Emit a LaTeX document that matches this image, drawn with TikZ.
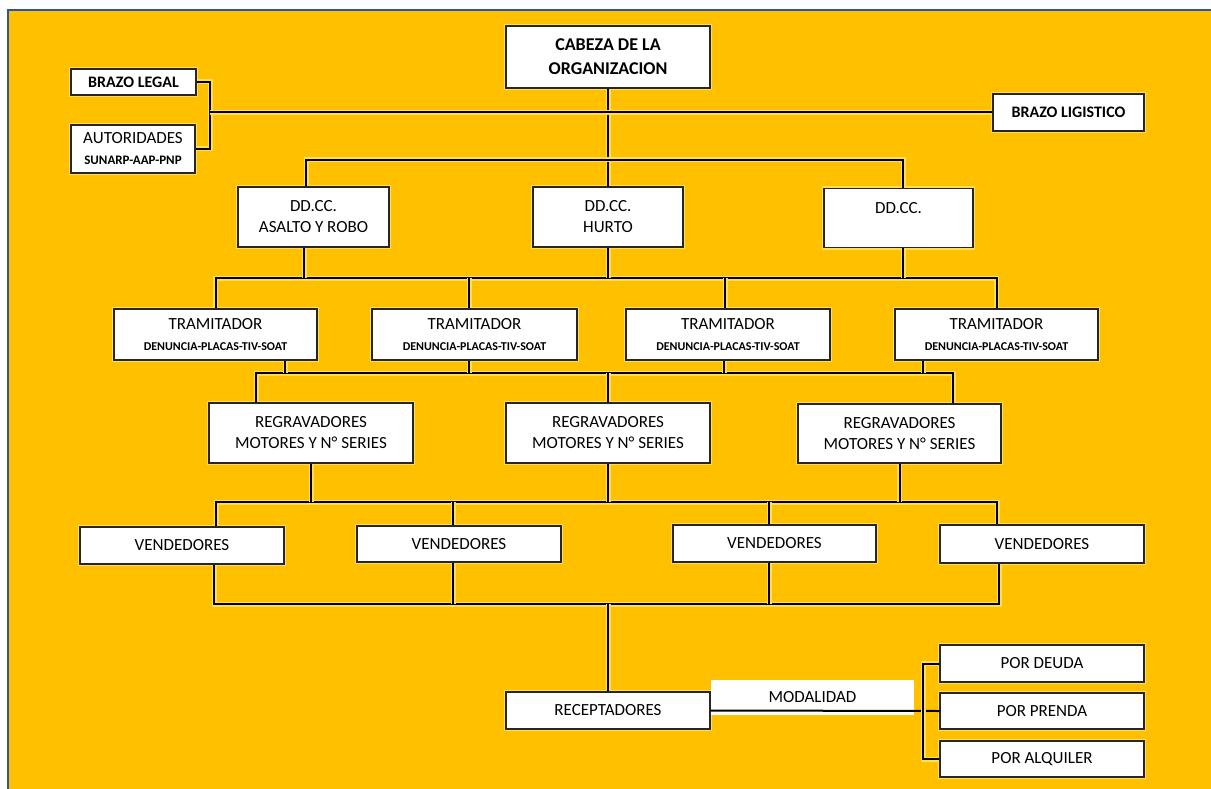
\documentclass[tikz,border=0pt]{standalone}
\usepackage{fontspec}
\setmainfont{Carlito}

\definecolor{fondo}{HTML}{FFC000}
\definecolor{halo}{HTML}{FFDD55}
\definecolor{marco}{HTML}{2F5597}
\newcommand{\subtxt}[2][12]{{\fontsize{#1}{#1}\selectfont\bfseries #2}}

\tikzset{
  texto/.style={align=center, inner sep=0pt, text=black, font=\fontsize{17}{21}\selectfont},
  caja/.style={texto, draw=black!85, line width=1.3pt, fill=white, minimum width=204pt, minimum height=37pt, preaction={draw=halo, line width=4pt}},
  trazo/.style={draw=black, line width=2pt},
  linea/.style={trazo, preaction={draw=halo, line width=5pt}}
}

\begin{document}
\begin{tikzpicture}[x=1pt, y=-1pt]
\useasboundingbox (0,0) rectangle (1211,789);
\fill[fondo] (8,10) rectangle (1211,789);
\draw[marco, line width=1.5pt] (8,789) -- (8,10) -- (1211,10);
% Boxes
\node[caja, minimum height=62pt, font=\fontsize{18}{24}\selectfont\bfseries] (cabeza) at (608,57) {CABEZA DE LA\\ORGANIZACION};
\node[caja, minimum width=125pt, minimum height=26pt, font=\fontsize{16}{20}\selectfont\bfseries] (legal) at (133.5,82) {BRAZO LEGAL};
\node[caja, minimum width=124pt, minimum height=48pt] (autoridad) at (133,149) {AUTORIDADES\\\subtxt[13]{SUNARP-AAP-PNP}};
\node[caja, minimum width=151pt, font=\fontsize{16}{20}\selectfont\bfseries] (logistico) at (1068.5,112.5) {BRAZO LIGISTICO};
\node[caja, minimum width=151pt, minimum height=60pt] (asalto) at (313.5,217) {DD.CC.\\ASALTO Y ROBO};
\node[caja, minimum width=150pt, minimum height=60pt] (hurto) at (608,217) {DD.CC.\\HURTO};
\node[caja, minimum width=149pt, minimum height=59pt] (ddcc) at (898.5,218) {DD.CC.\\\mbox{}};
\node[caja, minimum width=203pt, minimum height=51pt] (tram1) at (215.5,334.5) {TRAMITADOR\\\subtxt{DENUNCIA-PLACAS-TIV-SOAT}};
\node[caja, minimum width=205pt, minimum height=51pt] (tram2) at (474.5,334.5) {TRAMITADOR\\\subtxt{DENUNCIA-PLACAS-TIV-SOAT}};
\node[caja, minimum height=51pt] (tram3) at (728,334.5) {TRAMITADOR\\\subtxt{DENUNCIA-PLACAS-TIV-SOAT}};
\node[caja, minimum width=203pt, minimum height=51pt] (tram4) at (996.5,334.5) {TRAMITADOR\\\subtxt{DENUNCIA-PLACAS-TIV-SOAT}};
\node[caja, minimum height=60pt] (regr1) at (311,433) {REGRAVADORES\\MOTORES Y N° SERIES};
\node[caja, minimum height=60pt] (regr2) at (608,433) {REGRAVADORES\\MOTORES Y N° SERIES};
\node[caja, minimum width=203pt, minimum height=59pt] (regr3) at (899.5,433.5) {REGRAVADORES\\MOTORES Y N° SERIES};
\node[caja] (vend1) at (182,545.5) {VENDEDORES};
\node[caja, minimum height=36pt] (vend2) at (459,544) {VENDEDORES};
\node[caja, minimum width=203pt] (vend3) at (774.5,543.5) {VENDEDORES};
\node[caja, minimum height=38pt] (vend4) at (1042,544) {VENDEDORES};
\node[caja] (recep) at (608,710.5) {RECEPTADORES};
\node[texto, fill=white, minimum width=203pt, minimum height=35pt] (modal) at (812.5,697.5) {MODALIDAD};
\node[caja] (deuda) at (1042,663.5) {POR DEUDA};
\node[caja, minimum height=36pt] (prenda) at (1042,711) {POR PRENDA};
\node[caja, minimum height=36pt] (alquiler) at (1042,759) {POR ALQUILER};
% Buses
\coordinate (brazo) at (210,112.5);
\coordinate (b1) at (0,160);
\coordinate (b2) at (0,278);
\coordinate (b3) at (0,373);
\coordinate (b4) at (0,502);
\coordinate (b5) at (0,604);
% Lines
\draw[linea] (cabeza) -- (hurto);
\draw[linea] (legal.east) -| (brazo) |- (autoridad.east);
\draw[linea] (brazo) -- (logistico.west);
\draw[linea] ([xshift=-7.5pt]asalto.north) |- ([xshift=4.5pt]ddcc.north |- b1) -- ([xshift=4.5pt]ddcc.north);
\draw[linea] (tram1.north) |- (tram4.north |- b2) -- (tram4.north);
\draw[linea] ([xshift=-9.5pt]asalto.south) -- ([xshift=-9.5pt]asalto.south |- b2);
\draw[linea] (hurto.south) -- (hurto.south |- b2);
\draw[linea] ([xshift=4.5pt]ddcc.south) -- ([xshift=4.5pt]ddcc.south |- b2);
\draw[linea] ([xshift=-5.5pt]tram2.north) -- ([xshift=-5.5pt]tram2.north |- b2);
\draw[linea] ([xshift=-3pt]tram3.north) -- ([xshift=-3pt]tram3.north |- b2);
\draw[linea] ([xshift=-55pt]regr1.north) |- ([xshift=53.5pt]regr3.north |- b3) -- ([xshift=53.5pt]regr3.north);
\draw[linea] ([xshift=69.5pt]tram1.south) -- ([xshift=69.5pt]tram1.south |- b3);
\draw[linea] ([xshift=-5.5pt]tram2.south) -- ([xshift=-5.5pt]tram2.south |- b3);
\draw[linea] ([xshift=-4pt]tram3.south) -- ([xshift=-4pt]tram3.south |- b3);
\draw[linea] ([xshift=-73.5pt]tram4.south) -- ([xshift=-73.5pt]tram4.south |- b3);
\draw[linea] (regr2.north) -- (regr2.north |- b3);
\draw[linea] ([xshift=34pt]vend1.north) |- ([xshift=-45pt]vend4.north |- b4) -- ([xshift=-45pt]vend4.north);
\draw[linea] (regr1.south) -- (regr1.south |- b4);
\draw[linea] (regr2.south) -- (regr2.south |- b4);
\draw[linea] (regr3.south) -- (regr3.south |- b4);
\draw[linea] ([xshift=-6pt]vend2.north) -- ([xshift=-6pt]vend2.north |- b4);
\draw[linea] ([xshift=-5.5pt]vend3.north) -- ([xshift=-5.5pt]vend3.north |- b4);
\draw[linea] ([xshift=32pt]vend1.south) |- ([xshift=-43pt]vend4.south |- b5) -- ([xshift=-43pt]vend4.south);
\draw[linea] ([xshift=-6pt]vend2.south) -- ([xshift=-6pt]vend2.south |- b5);
\draw[linea] ([xshift=-5.5pt]vend3.south) -- ([xshift=-5.5pt]vend3.south |- b5);
\draw[linea] (recep.north |- b5) -- (recep.north);
% Modalidad
\draw[trazo] (recep.east) -- (prenda.west);
\draw[linea] (deuda.west) -- ++(-16,0) |- (alquiler.west);
\end{tikzpicture}
\end{document}
